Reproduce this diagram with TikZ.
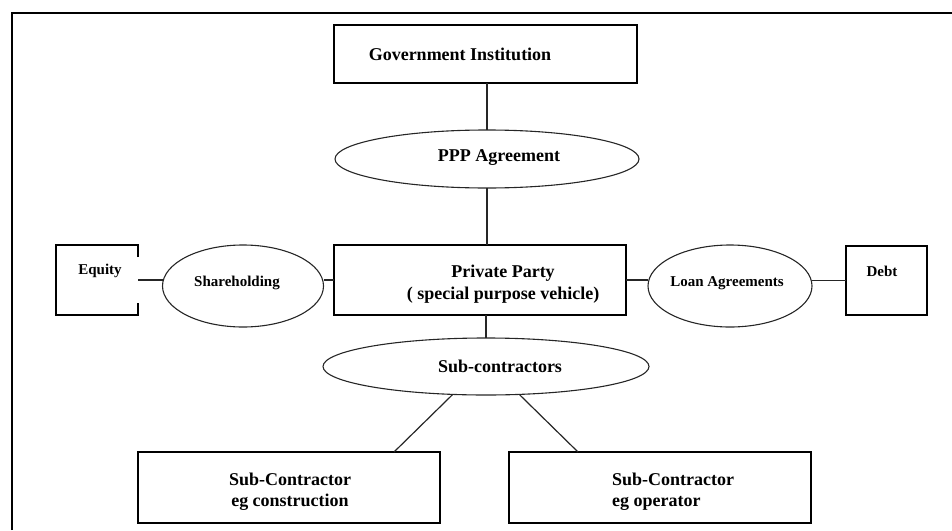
\documentclass[tikz,border=0pt]{standalone}
\usepackage{fontspec}
\setmainfont{Liberation Serif}
\usetikzlibrary{shapes.geometric}

\tikzset{
  boxnode/.style={draw=black, line width=1.8pt, rectangle, inner sep=0pt, outer sep=0pt},
  ovalnode/.style={draw=black!85, line width=1.1pt, ellipse, inner sep=0pt, outer sep=0pt},
  link/.style={draw=black!85, line width=1.2pt},
  bigtext/.style={font=\fontsize{18}{21}\selectfont\bfseries, inner sep=0pt, align=center},
  smalltext/.style={font=\fontsize{15}{18}\selectfont\bfseries, inner sep=0pt},
}

\begin{document}
\begin{tikzpicture}[x=1pt, y=-1pt]
\useasboundingbox (0,0) rectangle (952,530);

% page frame (open at right and bottom)
\draw[line width=2.4pt] (12,530) -- (12,13) -- (952,13);

% top: public side and agreement
\node[boxnode, minimum width=303pt, minimum height=58pt] (gov) at (485.5,54) {};
\node[bigtext] (govt) at (460,54) {Government Institution};
\node[ovalnode, minimum width=304pt, minimum height=58pt] (ppp) at (487,159) {};
\node[bigtext] (pppt) at (499,158) {PPP Agreement};

% middle row
\node[boxnode, minimum width=292pt, minimum height=70pt] (priv) at (480,280) {};
\node[bigtext, font=\fontsize{18}{22}\selectfont\bfseries] (privt) at (503,284) {Private Party\\( special purpose vehicle)};

\node[minimum width=82pt, minimum height=70pt, inner sep=0pt, outer sep=0pt] (eq) at (97,280) {};
\draw[line width=1.8pt] ([yshift=-12pt]eq.north east) -- (eq.north east) -- (eq.north west)
  -- (eq.south west) -- (eq.south east) -- ([yshift=12pt]eq.south east);
\node[smalltext] (eqt) at (100,271) {Equity};

\node[ovalnode, minimum width=161pt, minimum height=82pt] (share) at (243,286) {};
\node[smalltext] (sharet) at (237,283) {Shareholding};

\node[ovalnode, minimum width=164pt, minimum height=82pt] (loan) at (730,286) {};
\node[smalltext] (loant) at (727,283) {Loan Agreements};

\node[boxnode, minimum width=81pt, minimum height=69pt] (debt) at (886.5,280.5) {};
\node[smalltext] (debtt) at (882,271) {Debt};

% lower part: sub-contractors
\node[ovalnode, minimum width=326pt, minimum height=57pt] (sub) at (486,366.5) {};
\node[bigtext] (subt) at (500,366) {Sub-contractors};

\node[boxnode, minimum width=302pt, minimum height=71pt] (sca) at (289,487.5) {};
\node[bigtext] (scat) at (290,492) {Sub-Contractor\\eg construction};
\node[boxnode, minimum width=302pt, minimum height=71pt] (scb) at (660,487.5) {};
\node[bigtext, align=left, anchor=west] (scbt) at (612,492) {Sub-Contractor\\eg operator};

% connectors
\draw[link] (gov.south -| ppp.north) -- (ppp.north);
\draw[link] (ppp.south) -- (ppp.south |- priv.north);
\draw[link] (sub.north |- priv.south) -- (sub.north);
\draw[link] (eq.east) -- (share.west |- eq.east);
\draw[link] (share.east |- priv.west) -- (priv.west);
\draw[link] (priv.east) -- (loan.west |- priv.east);
\draw[link] (loan.east |- debt.west) -- (debt.west);
\draw[link] (sub.220) -- ([xshift=105pt]sca.north);
\draw[link] (sub.320) -- ([xshift=-82pt]scb.north);
\end{tikzpicture}
\end{document}
